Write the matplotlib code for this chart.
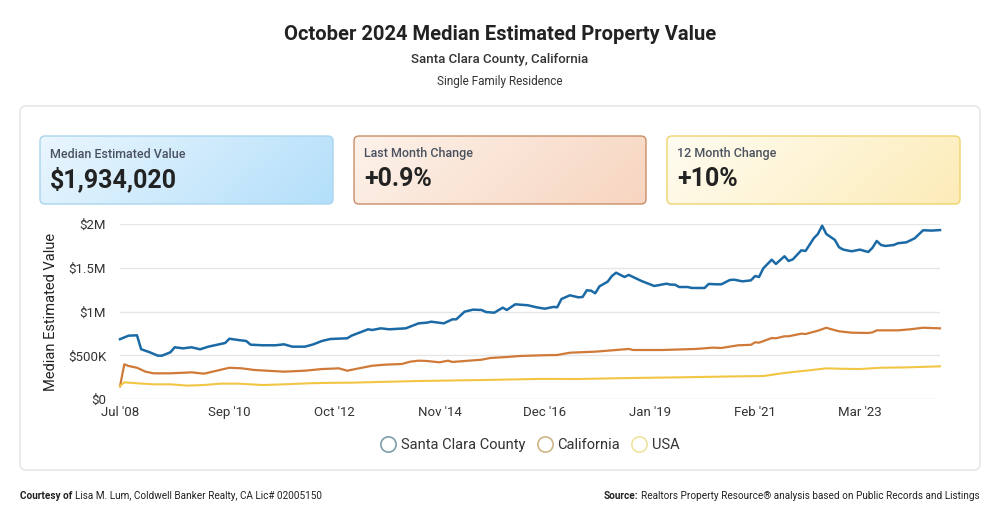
import numpy as np
import pandas as pd
import matplotlib
matplotlib.use("Agg")
import matplotlib.pyplot as plt
from matplotlib.patches import FancyBboxPatch
from matplotlib.lines import Line2D

plt.rcParams['font.family'] = ['Roboto', 'DejaVu Sans']

# ---- data (values in $K) ----
sc_dates = ["2008-07", "2008-09", "2008-11", "2008-12", "2009-02", "2009-04", "2009-05", "2009-07",
            "2009-08", "2009-10", "2009-12", "2010-02", "2010-04", "2010-08", "2010-09", "2010-11",
            "2011-01", "2011-02", "2011-05", "2011-08", "2011-10", "2011-12", "2012-03", "2012-05",
            "2012-07", "2012-09", "2013-01", "2013-02", "2013-06", "2013-07", "2013-09", "2013-11",
            "2014-03", "2014-06", "2014-08", "2014-09", "2014-12", "2015-02", "2015-03", "2015-05",
            "2015-07", "2015-09", "2015-10", "2015-12", "2016-02", "2016-03", "2016-05", "2016-08",
            "2016-10", "2016-12", "2017-02", "2017-03", "2017-04", "2017-06", "2017-08", "2017-09",
            "2017-10", "2017-11", "2017-12", "2018-01", "2018-03", "2018-04", "2018-05", "2018-07",
            "2018-08", "2018-11", "2019-02", "2019-03", "2019-05", "2019-06", "2019-07", "2019-08",
            "2019-10", "2019-11", "2020-02", "2020-03", "2020-05", "2020-06", "2020-08", "2020-09",
            "2020-11", "2021-01", "2021-02", "2021-03", "2021-04", "2021-06", "2021-07", "2021-09",
            "2021-10", "2021-11", "2022-01", "2022-02", "2022-04", "2022-05", "2022-06", "2022-07",
            "2022-09", "2022-10", "2022-11", "2023-01", "2023-03", "2023-05", "2023-06", "2023-07",
            "2023-08", "2023-09", "2023-11", "2023-12", "2024-02", "2024-04", "2024-06", "2024-08",
            "2024-10"]
sc_values = [685, 725, 729, 570, 535, 496, 496, 535,
             592, 580, 592, 569, 599, 641, 690, 676,
             664, 622, 615, 615, 626, 599, 599, 626,
             664, 687, 695, 725, 798, 790, 809, 798,
             809, 866, 874, 885, 866, 912, 912, 1000,
             1023, 1019, 996, 988, 1046, 1019, 1084, 1073,
             1050, 1034, 1054, 1050, 1145, 1187, 1164, 1168,
             1245, 1240, 1210, 1290, 1343, 1408, 1446, 1397,
             1420, 1351, 1294, 1302, 1320, 1309, 1309, 1282,
             1282, 1271, 1271, 1317, 1313, 1313, 1362, 1366,
             1347, 1358, 1408, 1397, 1496, 1595, 1546, 1634,
             1580, 1599, 1702, 1695, 1840, 1889, 1984, 1889,
             1821, 1737, 1710, 1691, 1710, 1683, 1733, 1809,
             1763, 1752, 1763, 1783, 1794, 1840, 1932, 1928,
             1934]

ca_dates = ["2008-07", "2008-08", "2008-09", "2008-11", "2009-01", "2009-03", "2009-07", "2009-12",
            "2010-03", "2010-06", "2010-09", "2010-12", "2011-03", "2011-10", "2012-03", "2012-07",
            "2012-09", "2012-11", "2013-01", "2013-03", "2013-07", "2013-10", "2014-02", "2014-04",
            "2014-06", "2014-08", "2014-11", "2015-01", "2015-02", "2015-09", "2015-11", "2016-03",
            "2016-06", "2016-11", "2017-03", "2017-06", "2017-12", "2018-04", "2018-08", "2018-09",
            "2019-04", "2019-12", "2020-04", "2020-06", "2020-10", "2021-01", "2021-02", "2021-03",
            "2021-06", "2021-07", "2021-09", "2021-10", "2022-01", "2022-02", "2022-05", "2022-07",
            "2022-08", "2022-10", "2023-01", "2023-05", "2023-06", "2023-07", "2023-12", "2024-03",
            "2024-06", "2024-10"]
ca_values = [145, 397, 378, 358, 313, 294, 294, 305,
             290, 324, 358, 351, 332, 313, 324, 343,
             347, 351, 324, 343, 381, 393, 401, 427,
             439, 435, 420, 439, 424, 450, 469, 481,
             492, 500, 504, 530, 542, 557, 573, 561,
             561, 573, 588, 584, 615, 620, 649, 645,
             698, 695, 718, 718, 748, 744, 782, 816,
             801, 775, 759, 756, 763, 786, 786, 798,
             816, 809]

us_dates = ["2008-07", "2008-08", "2008-11", "2009-03", "2009-07", "2009-11", "2010-03", "2010-07",
            "2010-11", "2011-05", "2011-10", "2012-04", "2012-09", "2013-02", "2014-06", "2015-10",
            "2016-11", "2017-08", "2018-08", "2019-08", "2020-08", "2021-04", "2021-09", "2022-02",
            "2022-07", "2022-10", "2023-03", "2023-08", "2024-02", "2024-10"]
us_values = [149, 191, 180, 168, 168, 153, 160, 176,
             176, 160, 168, 180, 185, 187, 206, 218,
             230, 229, 240, 248, 258, 263, 298, 324,
             351, 347, 343, 358, 362, 374]

tick_dates = ["2008-07", "2010-09", "2012-10", "2014-11", "2016-12", "2019-01", "2021-02", "2023-03"]
tick_labels = ["Jul '08", "Sep '10", "Oct '12", "Nov '14", "Dec '16", "Jan '19", "Feb '21", "Mar '23"]
y_ticks = [0, 500e3, 1e6, 1.5e6, 2e6]
y_labels = ["$0", "$500K", "$1M", "$1.5M", "$2M"]

cards = [("Median Estimated Value", "$1,934,020"),
         ("Last Month Change", "+0.9%"),
         ("12 Month Change", "+10%")]

series = [("Santa Clara County", sc_dates, sc_values, "#1b6aa5", 1.8, "#7d9fa8"),
          ("California", ca_dates, ca_values, "#cf7a38", 1.6, "#cfb48a"),
          ("USA", us_dates, us_values, "#f2c644", 1.5, "#efe3a0")]

W, H = 1000, 524
fig = plt.figure(figsize=(W / 100, H / 100), dpi=100)
fig.patch.set_facecolor("white")


def fx(px):
    return px / W


def fy(py):
    return 1 - py / H


def rbox(x0, y0, x1, y1, r, **kw):
    # rounded box in pixel coords (top-left origin), drawn in inches
    return FancyBboxPatch((x0 / 100, (H - y1) / 100), (x1 - x0) / 100, (y1 - y0) / 100,
                          boxstyle=f"round,pad=0,rounding_size={r / 100}",
                          transform=fig.dpi_scale_trans, **kw)


# titles
fig.text(0.5, fy(34), "October 2024 Median Estimated Property Value", ha="center", va="center",
         fontsize=14.5, fontweight="bold", color="#222222")
fig.text(0.5, fy(59), "Santa Clara County, California", ha="center", va="center",
         fontsize=9.5, fontweight="medium", color="#333333")
fig.text(0.5, fy(82), "Single Family Residence", ha="center", va="center",
         fontsize=8.5, color="#333333")

# outer panel
fig.patches.append(rbox(20, 106, 980, 470, 6, facecolor="white", edgecolor="#e3e3e3", lw=1, zorder=-5))

# summary cards
card_x = [(40, 333), (354, 646), (667, 960)]
card_cols = [("#eaf6fe", "#b3dffa", "#a9d5ef"),
             ("#fdf2ea", "#f7d5c0", "#c98d68"),
             ("#fffcf1", "#fdecb8", "#efd46f")]
for (x0, x1), (lab, val), (c0, c1, ec) in zip(card_x, cards, card_cols):
    y0, y1 = 136, 204
    cax = fig.add_axes([fx(x0), fy(y1), fx(x1 - x0), (y1 - y0) / H])
    cax.set_axis_off()
    gx = np.linspace(0, 1, 200)
    gy = np.linspace(0, 1, 40)
    gg = np.clip(0.8 * gx[None, :] + 0.2 * gy[:, None], 0, 1)
    cmap = matplotlib.colors.LinearSegmentedColormap.from_list("g", [c0, c1])
    im = cax.imshow(gg, cmap=cmap, aspect="auto", extent=[0, 1, 0, 1], vmin=0, vmax=1)
    clip = rbox(x0, y0, x1, y1, 5, facecolor="none", edgecolor="none")
    im.set_clip_path(clip)
    fig.patches.append(rbox(x0, y0, x1, y1, 5, facecolor="none", edgecolor=ec, lw=1, zorder=5))
    fig.text(fx(x0 + 10), fy(154), lab, ha="left", va="center", fontsize=9,
             fontweight="medium", color="#4a5260")
    fig.text(fx(x0 + 10), fy(179), val, ha="left", va="center", fontsize=18,
             fontweight="bold", color="#222222")

# main chart
ax = fig.add_axes([fx(120), fy(399), fx(940 - 120), (399 - 224.3) / H])
ax.patch.set_alpha(0)
for name, d, v, col, lw, _ in series:
    ax.plot(pd.to_datetime(d), np.array(v) * 1000, color=col, lw=lw, solid_joinstyle="round",
            clip_on=False, zorder=3)

ax.set_xlim(pd.Timestamp("2008-07-01"), pd.Timestamp("2024-10-01"))
ax.set_ylim(0, 2e6)
ax.set_yticks(y_ticks)
ax.set_yticklabels(y_labels)
ax.set_xticks(pd.to_datetime(tick_dates))
ax.set_xticklabels(tick_labels)
ax.tick_params(axis="both", length=0, labelsize=9.5, labelcolor="#333333")
ax.tick_params(axis="y", pad=10)
ax.tick_params(axis="x", pad=5)
ax.grid(axis="y", color="#e6e6e6", lw=1)
ax.set_axisbelow(True)
for s in ax.spines.values():
    s.set_visible(False)
ax.set_ylabel("Median Estimated Value", fontsize=10.5, color="#222222", labelpad=7)

# legend with hollow circles
handles = [Line2D([], [], ls="none", marker="o", markersize=11, mfc="white", mec=mec, mew=1.2)
           for _, _, _, _, _, mec in series]
fig.legend(handles, [s[0] for s in series], loc="center", bbox_to_anchor=(0.528, fy(445)),
           ncol=3, frameon=False, fontsize=10.5, handletextpad=0.05, columnspacing=0.55,
           handlelength=1.6, labelcolor="#333333")

# footer: bold lead-in followed by regular text
renderer = fig.canvas.get_renderer()
fs_foot = 7.2
t1 = fig.text(fx(20), fy(496), "Courtesy of", ha="left", va="center", fontsize=fs_foot,
              fontweight="bold", color="#222222")
w1 = t1.get_window_extent(renderer).width
fig.text(fx(20 + w1 + 3), fy(496), "Lisa M. Lum, Coldwell Banker Realty, CA Lic# 02005150",
         ha="left", va="center", fontsize=fs_foot, color="#222222")
t2 = fig.text(fx(980), fy(496), "Realtors Property Resource\u00ae analysis based on Public Records and Listings",
              ha="right", va="center", fontsize=fs_foot, color="#222222")
w2 = t2.get_window_extent(renderer).width
fig.text(fx(980 - w2 - 3), fy(496), "Source:", ha="right", va="center", fontsize=fs_foot,
         fontweight="bold", color="#222222")

fig.savefig("out.png", dpi=100, facecolor="white")
